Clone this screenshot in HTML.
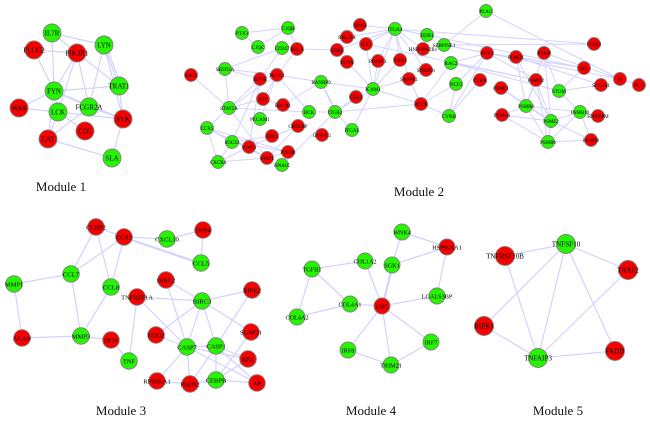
<!DOCTYPE html>
<html><head><meta charset="utf-8"><style>
html,body{margin:0;padding:0;background:#fff}
svg{display:block;filter:blur(.2px)}
text{font-family:"Liberation Serif",serif;text-anchor:middle;fill:#000}
.e{fill:none;stroke:#d2d2ff;stroke-width:1.2}
.r circle{fill:#f70000}.g circle{fill:#26f400}
circle{stroke:#808080;stroke-width:.9}
.m{font-size:13px;fill:#111}
</style></head><body>
<svg width="650" height="424" viewBox="0 0 650 424" xmlns="http://www.w3.org/2000/svg">
<path class="e" d="M52 33L104 45M52 33L77 53M52 33L54 91M34 50L77 53M34 50L54 91M77 53L54 91M77 53L58 112M77 53L89 107M77 53L119 86M104 45L119 86M106 45L121 86M104 45L89 107M104 45L123 119M119 86L54 91M119 86L123 119M54 91L19 108M54 91L58 112M54 91L48 139M54 91L89 107M54 91L123 119M19 108L58 112M58 112L48 139M58 112L85 131M58 112L123 119M89 107L48 139M89 107L123 119M48 139L112 158M123 119L112 158"/>
<path class="e" style="stroke-width:1" d="M242 33L288 28M242 33L258 47M258 47L288 28M288 28L297 49M297 49L337 50M297 49L277 75M282 48L225 69M282 48L260 79M225 69L260 79M225 69L277 75M225 69L229 108M191 75L229 108M260 79L229 108M260 79L277 75M260 79L232 142M260 79L249 147M277 75L229 108M277 75L321 82M277 75L260 119M277 75L263 99M277 75L309 112M263 99L229 108M283 105L321 82M283 105L263 99M309 112L229 108M309 112L335 112M321 82L335 112M321 82L337 112M321 82L373 89M229 108L207 128M229 108L267 158M207 128L232 142M207 128L218 162M207 128L267 158M207 128L288 152M232 142L272 136M232 142L249 147M232 142L218 162M232 142L288 152M218 162L249 147M218 162L267 158M249 147L267 158M267 158L288 152M267 158L298 126M288 152L282 165M282 165L335 112M249 147L298 126M335 112L373 89M335 112L352 130M335 112L421 104M335 112L356 97M373 89L352 130M373 89L395 29M373 89L366 44M373 89L347 62M373 89L400 60M373 89L421 104M373 89L409 79M373 89L378 61M337 50L395 29M360 25L395 29M347 37L395 29M366 44L395 29M395 29L427 35M395 29L409 79M395 29L423 49M395 29L426 70M395 29L378 61M395 29L400 60M421 104L409 79M421 104L451 63M421 104L456 84M421 104L449 116M449 116L456 84M449 116L480 80M449 116L487 53M456 84L487 53M451 63L487 53M444 45L486 11M444 45L594 44M395 29L594 44M427 35L584 68M444 45L620 79M444 45L487 53M366 44L536 80M487 53L584 68M487 53L536 80M487 53L620 79M451 63L559 91M451 63L536 80M486 11L620 79M620 79L639 85M544 53L620 79M516 57L584 68M516 57L601 85M516 57L526 106M516 57L551 121M544 53L526 106M544 53L551 121M544 53L559 91M536 80L526 106M536 80L551 121M536 80L548 142M584 68L559 91M559 91L601 85M559 91L580 112M501 88L526 106M501 88L551 121M502 115L526 106M502 115L551 121M502 115L548 142M526 106L548 142M526 106L551 121M526 106L580 112M551 121L580 112M551 121L548 142M580 112L548 142M580 112L591 140M548 142L591 140M580 112L598 116M551 121L591 140"/>
<path class="e" d="M96 227L124 237M96 227L71 274M96 227L111 287M124 237L71 274M124 237L111 287M124 237L167 239M124 237L201 263M124 238L201 264M167 239L203 230M203 230L201 263M71 274L14 284M71 274L81 336M111 287L81 336M14 284L22 338M22 338L81 336M81 336L111 340M111 340L129 361M129 361L137 297M137 297L202 301M137 297L187 347M166 280L202 301M166 280L187 347M202 301L252 290M202 301L156 335M202 301L187 347M202 301L216 346M202 301L251 332M252 290L216 346M156 335L187 347M187 347L216 346M187 347L248 359M187 347L257 383M187 347L157 381M187 347L190 384M216 346L257 383M216 346L190 384M216 346L216 380M216 346L248 359M251 332L216 380M248 359L216 380M216 380L257 383M216 380L190 384M157 381L190 384"/>
<path class="e" d="M402 232L447 247M402 232L392 265M447 247L392 265M447 247L437 296M392 265L382 306M393 265L383 306M365 261L312 269M365 261L382 306M312 269L350 304M312 269L297 317M297 317L350 304M350 304L382 306M382 306L437 296M382 306L348 350M382 306L391 365M382 306L431 342M348 350L391 365M391 365L431 342"/>
<path class="e" d="M566 244L505 256M566 244L628 270M566 244L484 326M566 244L538 358M566 244L615 351M505 256L538 358M628 270L538 358M484 326L538 358M538 358L615 351"/>

<g font-size="7">
<g class="g"><circle cx="52" cy="33" r="9"/><text x="52" y="35.5">IL7R</text></g>
<g class="g"><circle cx="104" cy="45" r="9"/><text x="104" y="47.5">LYN</text></g>
<g class="r"><circle cx="34" cy="50" r="9"/><text x="34" y="52.5">PLCG2</text></g>
<g class="r"><circle cx="77" cy="53" r="9"/><text x="77" y="55.5">PIK3R1</text></g>
<g class="g"><circle cx="119" cy="86" r="9"/><text x="119" y="88.5">TRAT1</text></g>
<g class="g"><circle cx="54" cy="91" r="9"/><text x="54" y="93.5">FYN</text></g>
<g class="r"><circle cx="19" cy="108" r="9"/><text x="19" y="110.5">WAS</text></g>
<g class="g"><circle cx="58" cy="112" r="9"/><text x="58" y="114.5">LCK</text></g>
<g class="g"><circle cx="89" cy="107" r="9"/><text x="89" y="109.5">FCGR2A</text></g>
<g class="r"><circle cx="123" cy="119" r="9"/><text x="123" y="121.5">SYK</text></g>
<g class="r"><circle cx="85" cy="131" r="9"/><text x="85" y="133.5">CD5</text></g>
<g class="r"><circle cx="48" cy="139" r="9"/><text x="48" y="141.5">LAT</text></g>
<g class="g"><circle cx="112" cy="158" r="9"/><text x="112" y="160.5">SLA</text></g>
</g>

<g font-size="5">
<g class="g"><circle cx="242" cy="33" r="6.5"/><text x="242" y="35">PTX3</text></g>
<g class="g"><circle cx="288" cy="28" r="6.5"/><text x="288" y="30">C1QB</text></g>
<g class="g"><circle cx="258" cy="47" r="6.5"/><text x="258" y="49">C1QC</text></g>
<g class="g"><circle cx="282" cy="48" r="6.5"/><text x="282" y="50">CD247</text></g>
<g class="r"><circle cx="297" cy="49" r="6.5"/><text x="297" y="51">RELA</text></g>
<g class="r"><circle cx="337" cy="50" r="6.5"/><text x="337" y="52">GRB2</text></g>
<g class="g"><circle cx="225" cy="69" r="6.5"/><text x="225" y="71">SH2D2A</text></g>
<g class="r"><circle cx="191" cy="75" r="6.5"/><text x="191" y="77">SDC1</text></g>
<g class="r"><circle cx="260" cy="79" r="6.5"/><text x="260" y="81">EGFR</text></g>
<g class="r"><circle cx="277" cy="75" r="6.5"/><text x="277" y="77">PLCG1</text></g>
<g class="g"><circle cx="321" cy="82" r="6.5"/><text x="321" y="84">RANBP9</text></g>
<g class="r"><circle cx="263" cy="99" r="6.5"/><text x="263" y="101">KIT</text></g>
<g class="r"><circle cx="283" cy="105" r="6.5"/><text x="283" y="107">BRCA1</text></g>
<g class="g"><circle cx="229" cy="108" r="6.5"/><text x="229" y="110">STAT5A</text></g>
<g class="g"><circle cx="309" cy="112" r="6.5"/><text x="309" y="114">BCK</text></g>
<g class="g"><circle cx="335" cy="112" r="6.5"/><text x="335" y="114">ITGB2</text></g>
<g class="g"><circle cx="260" cy="119" r="6.5"/><text x="260" y="121">PECAM1</text></g>
<g class="g"><circle cx="207" cy="128" r="6.5"/><text x="207" y="130">CCR5</text></g>
<g class="r"><circle cx="298" cy="126" r="6.5"/><text x="298" y="128">CREBBP</text></g>
<g class="r"><circle cx="272" cy="136" r="6.5"/><text x="272" y="138">ABL1</text></g>
<g class="r"><circle cx="322" cy="135" r="6.5"/><text x="322" y="137">GNB2L1</text></g>
<g class="g"><circle cx="232" cy="142" r="6.5"/><text x="232" y="144">SOCS3</text></g>
<g class="r"><circle cx="249" cy="147" r="6.5"/><text x="249" y="149">STAT3</text></g>
<g class="r"><circle cx="288" cy="152" r="6.5"/><text x="288" y="154">PTK2B</text></g>
<g class="r"><circle cx="267" cy="158" r="6.5"/><text x="267" y="160">STAT1</text></g>
<g class="g"><circle cx="218" cy="162" r="6.5"/><text x="218" y="164">CXCR4</text></g>
<g class="g"><circle cx="282" cy="165" r="6.5"/><text x="282" y="167">HNAIC</text></g>
<g class="g"><circle cx="486" cy="11" r="6.5"/><text x="486" y="13">PLAU</text></g>
<g class="r"><circle cx="360" cy="25" r="6.5"/><text x="360" y="27">NPM1</text></g>
<g class="g"><circle cx="395" cy="29" r="6.5"/><text x="395" y="31">ITGA4</text></g>
<g class="g"><circle cx="427" cy="35" r="6.5"/><text x="427" y="37">DDB1</text></g>
<g class="r"><circle cx="347" cy="37" r="6.5"/><text x="347" y="39">RPL13A</text></g>
<g class="r"><circle cx="366" cy="44" r="6.5"/><text x="366" y="46">ILF3</text></g>
<g class="g"><circle cx="444" cy="45" r="6.5"/><text x="444" y="47">SERPINE1</text></g>
<g class="r"><circle cx="423" cy="49" r="6.5"/><text x="423" y="51">HNRNPA2B1</text></g>
<g class="r"><circle cx="487" cy="53" r="6.5"/><text x="487" y="55">NCF1</text></g>
<g class="r"><circle cx="347" cy="62" r="6.5"/><text x="347" y="64">FLNA</text></g>
<g class="r"><circle cx="378" cy="61" r="6.5"/><text x="378" y="63">PABPC1</text></g>
<g class="r"><circle cx="400" cy="60" r="6.5"/><text x="400" y="62">YBX1</text></g>
<g class="g"><circle cx="451" cy="63" r="6.5"/><text x="451" y="65">RAC2</text></g>
<g class="r"><circle cx="426" cy="70" r="6.5"/><text x="426" y="72">SNRPD1</text></g>
<g class="r"><circle cx="409" cy="79" r="6.5"/><text x="409" y="81">SNRPE1</text></g>
<g class="r"><circle cx="480" cy="80" r="6.5"/><text x="480" y="82">CYBA</text></g>
<g class="g"><circle cx="456" cy="84" r="6.5"/><text x="456" y="86">NCF2</text></g>
<g class="g"><circle cx="373" cy="89" r="6.5"/><text x="373" y="91">ICAM1</text></g>
<g class="r"><circle cx="356" cy="97" r="6.5"/><text x="356" y="99">CDK2</text></g>
<g class="r"><circle cx="421" cy="104" r="6.5"/><text x="421" y="106">ACTB</text></g>
<g class="g"><circle cx="449" cy="116" r="6.5"/><text x="449" y="118">CYBB</text></g>
<g class="g"><circle cx="352" cy="130" r="6.5"/><text x="352" y="132">ITGAL</text></g>
<g class="r"><circle cx="594" cy="44" r="6.5"/><text x="594" y="46">ITGB3</text></g>
<g class="r"><circle cx="516" cy="57" r="6.5"/><text x="516" y="59">PSMD1</text></g>
<g class="r"><circle cx="544" cy="53" r="6.5"/><text x="544" y="55">POMP</text></g>
<g class="r"><circle cx="584" cy="68" r="6.5"/><text x="584" y="70">SF1</text></g>
<g class="r"><circle cx="536" cy="80" r="6.5"/><text x="536" y="82">PSMD2</text></g>
<g class="r"><circle cx="620" cy="79" r="6.5"/><text x="620" y="81">F2</text></g>
<g class="r"><circle cx="639" cy="85" r="6.5"/><text x="639" y="87">PLG</text></g>
<g class="r"><circle cx="601" cy="85" r="6.5"/><text x="601" y="87">SLC2A1</text></g>
<g class="r"><circle cx="501" cy="88" r="6.5"/><text x="501" y="90">PSMC1</text></g>
<g class="g"><circle cx="559" cy="91" r="6.5"/><text x="559" y="93">STOM</text></g>
<g class="g"><circle cx="526" cy="106" r="6.5"/><text x="526" y="108">PSMB8</text></g>
<g class="g"><circle cx="580" cy="112" r="6.5"/><text x="580" y="114">PSMB10</text></g>
<g class="r"><circle cx="598" cy="116" r="6.5"/><text x="598" y="118">HNRNPM</text></g>
<g class="r"><circle cx="502" cy="115" r="6.5"/><text x="502" y="117">PSMA4</text></g>
<g class="g"><circle cx="551" cy="121" r="6.5"/><text x="551" y="123">PSME2</text></g>
<g class="r"><circle cx="591" cy="140" r="6.5"/><text x="591" y="142">PSMD8</text></g>
<g class="g"><circle cx="548" cy="142" r="6.5"/><text x="548" y="144">PSMB6</text></g>
</g>

<g font-size="6.5">
<g class="r"><circle cx="96" cy="227" r="8.3"/><text x="96" y="229.5">CCBP2</text></g>
<g class="r"><circle cx="124" cy="237" r="8.3"/><text x="124" y="239.5">CCR3</text></g>
<g class="g"><circle cx="71" cy="274" r="8.3"/><text x="71" y="276.5">CCL7</text></g>
<g class="g"><circle cx="14" cy="284" r="8.3"/><text x="14" y="286.5">MMP1</text></g>
<g class="g"><circle cx="111" cy="287" r="8.3"/><text x="111" y="289.5">CCL8</text></g>
<g class="r"><circle cx="137" cy="297" r="8.3"/><text x="137" y="299.5">TNFRSF1A</text></g>
<g class="r"><circle cx="22" cy="338" r="8.3"/><text x="22" y="340.5">ACAN</text></g>
<g class="g"><circle cx="81" cy="336" r="8.3"/><text x="81" y="338.5">MMP3</text></g>
<g class="r"><circle cx="111" cy="340" r="8.3"/><text x="111" y="342.5">DCN</text></g>
<g class="g"><circle cx="129" cy="361" r="8.3"/><text x="129" y="363.5">TNF</text></g>
<g class="g"><circle cx="167" cy="239" r="8.3"/><text x="167" y="241.5">CXCL10</text></g>
<g class="r"><circle cx="203" cy="230" r="8.3"/><text x="203" y="232.5">DPP4</text></g>
<g class="g"><circle cx="201" cy="263" r="8.3"/><text x="201" y="265.5">CCL5</text></g>
<g class="r"><circle cx="166" cy="280" r="8.3"/><text x="166" y="282.5">BIRC2</text></g>
<g class="g"><circle cx="202" cy="301" r="8.3"/><text x="202" y="303.5">BIRC3</text></g>
<g class="r"><circle cx="252" cy="290" r="8.3"/><text x="252" y="292.5">RIPK2</text></g>
<g class="r"><circle cx="156" cy="335" r="8.3"/><text x="156" y="337.5">NOD2</text></g>
<g class="r"><circle cx="251" cy="332" r="8.3"/><text x="251" y="334.5">SUMO1</text></g>
<g class="g"><circle cx="187" cy="347" r="8.3"/><text x="187" y="349.5">CASP7</text></g>
<g class="g"><circle cx="216" cy="346" r="8.3"/><text x="216" y="348.5">CASP1</text></g>
<g class="r"><circle cx="248" cy="359" r="8.3"/><text x="248" y="361.5">RB1</text></g>
<g class="r"><circle cx="157" cy="381" r="8.3"/><text x="157" y="383.5">RPS6KA1</text></g>
<g class="r"><circle cx="190" cy="384" r="8.3"/><text x="190" y="386.5">PSEN2</text></g>
<g class="g"><circle cx="216" cy="380" r="8.3"/><text x="216" y="382.5">CEBPB</text></g>
<g class="r"><circle cx="257" cy="383" r="8.3"/><text x="257" y="385.5">AR</text></g>
</g>

<g font-size="6.2">
<g class="g"><circle cx="402" cy="232" r="8"/><text x="402" y="234.5">WNK4</text></g>
<g class="r"><circle cx="447" cy="247" r="8"/><text x="447" y="249.5">HSP90AA1</text></g>
<g class="g"><circle cx="365" cy="261" r="8"/><text x="365" y="263.5">COL1A2</text></g>
<g class="g"><circle cx="392" cy="265" r="8"/><text x="392" y="267.5">SGK1</text></g>
<g class="g"><circle cx="312" cy="269" r="8"/><text x="312" y="271.5">TGFB1</text></g>
<g class="g"><circle cx="437" cy="296" r="8"/><text x="437" y="298.5">LGALS3BP</text></g>
<g class="g"><circle cx="350" cy="304" r="8"/><text x="350" y="306.5">COL4A1</text></g>
<g class="r"><circle cx="382" cy="306" r="8"/><text x="382" y="308.5">UBC</text></g>
<g class="g"><circle cx="297" cy="317" r="8"/><text x="297" y="319.5">COL4A2</text></g>
<g class="g"><circle cx="431" cy="342" r="8"/><text x="431" y="344.5">IRF7</text></g>
<g class="g"><circle cx="348" cy="350" r="8"/><text x="348" y="352.5">IRF8</text></g>
<g class="g"><circle cx="391" cy="365" r="8"/><text x="391" y="367.5">TRIM21</text></g>
</g>

<g font-size="7.1">
<g class="g"><circle cx="566" cy="244" r="9.5"/><text x="566" y="246.5">TNFSF10</text></g>
<g class="r"><circle cx="505" cy="256" r="9.5"/><text x="505" y="258.5">TNFRSF10B</text></g>
<g class="r"><circle cx="628" cy="270" r="9.5"/><text x="628" y="272.5">TRAF2</text></g>
<g class="r"><circle cx="484" cy="326" r="9.5"/><text x="484" y="328.5">RIPK1</text></g>
<g class="g"><circle cx="538" cy="358" r="9.5"/><text x="538" y="360.5">TNFAIP3</text></g>
<g class="r"><circle cx="615" cy="351" r="9.5"/><text x="615" y="353.5">FADD</text></g>
</g>

<text class="m" x="61" y="191">Module 1</text>
<text class="m" x="419" y="196">Module 2</text>
<text class="m" x="121" y="415">Module 3</text>
<text class="m" x="371" y="415">Module 4</text>
<text class="m" x="558" y="415">Module 5</text>
</svg>
</body></html>
